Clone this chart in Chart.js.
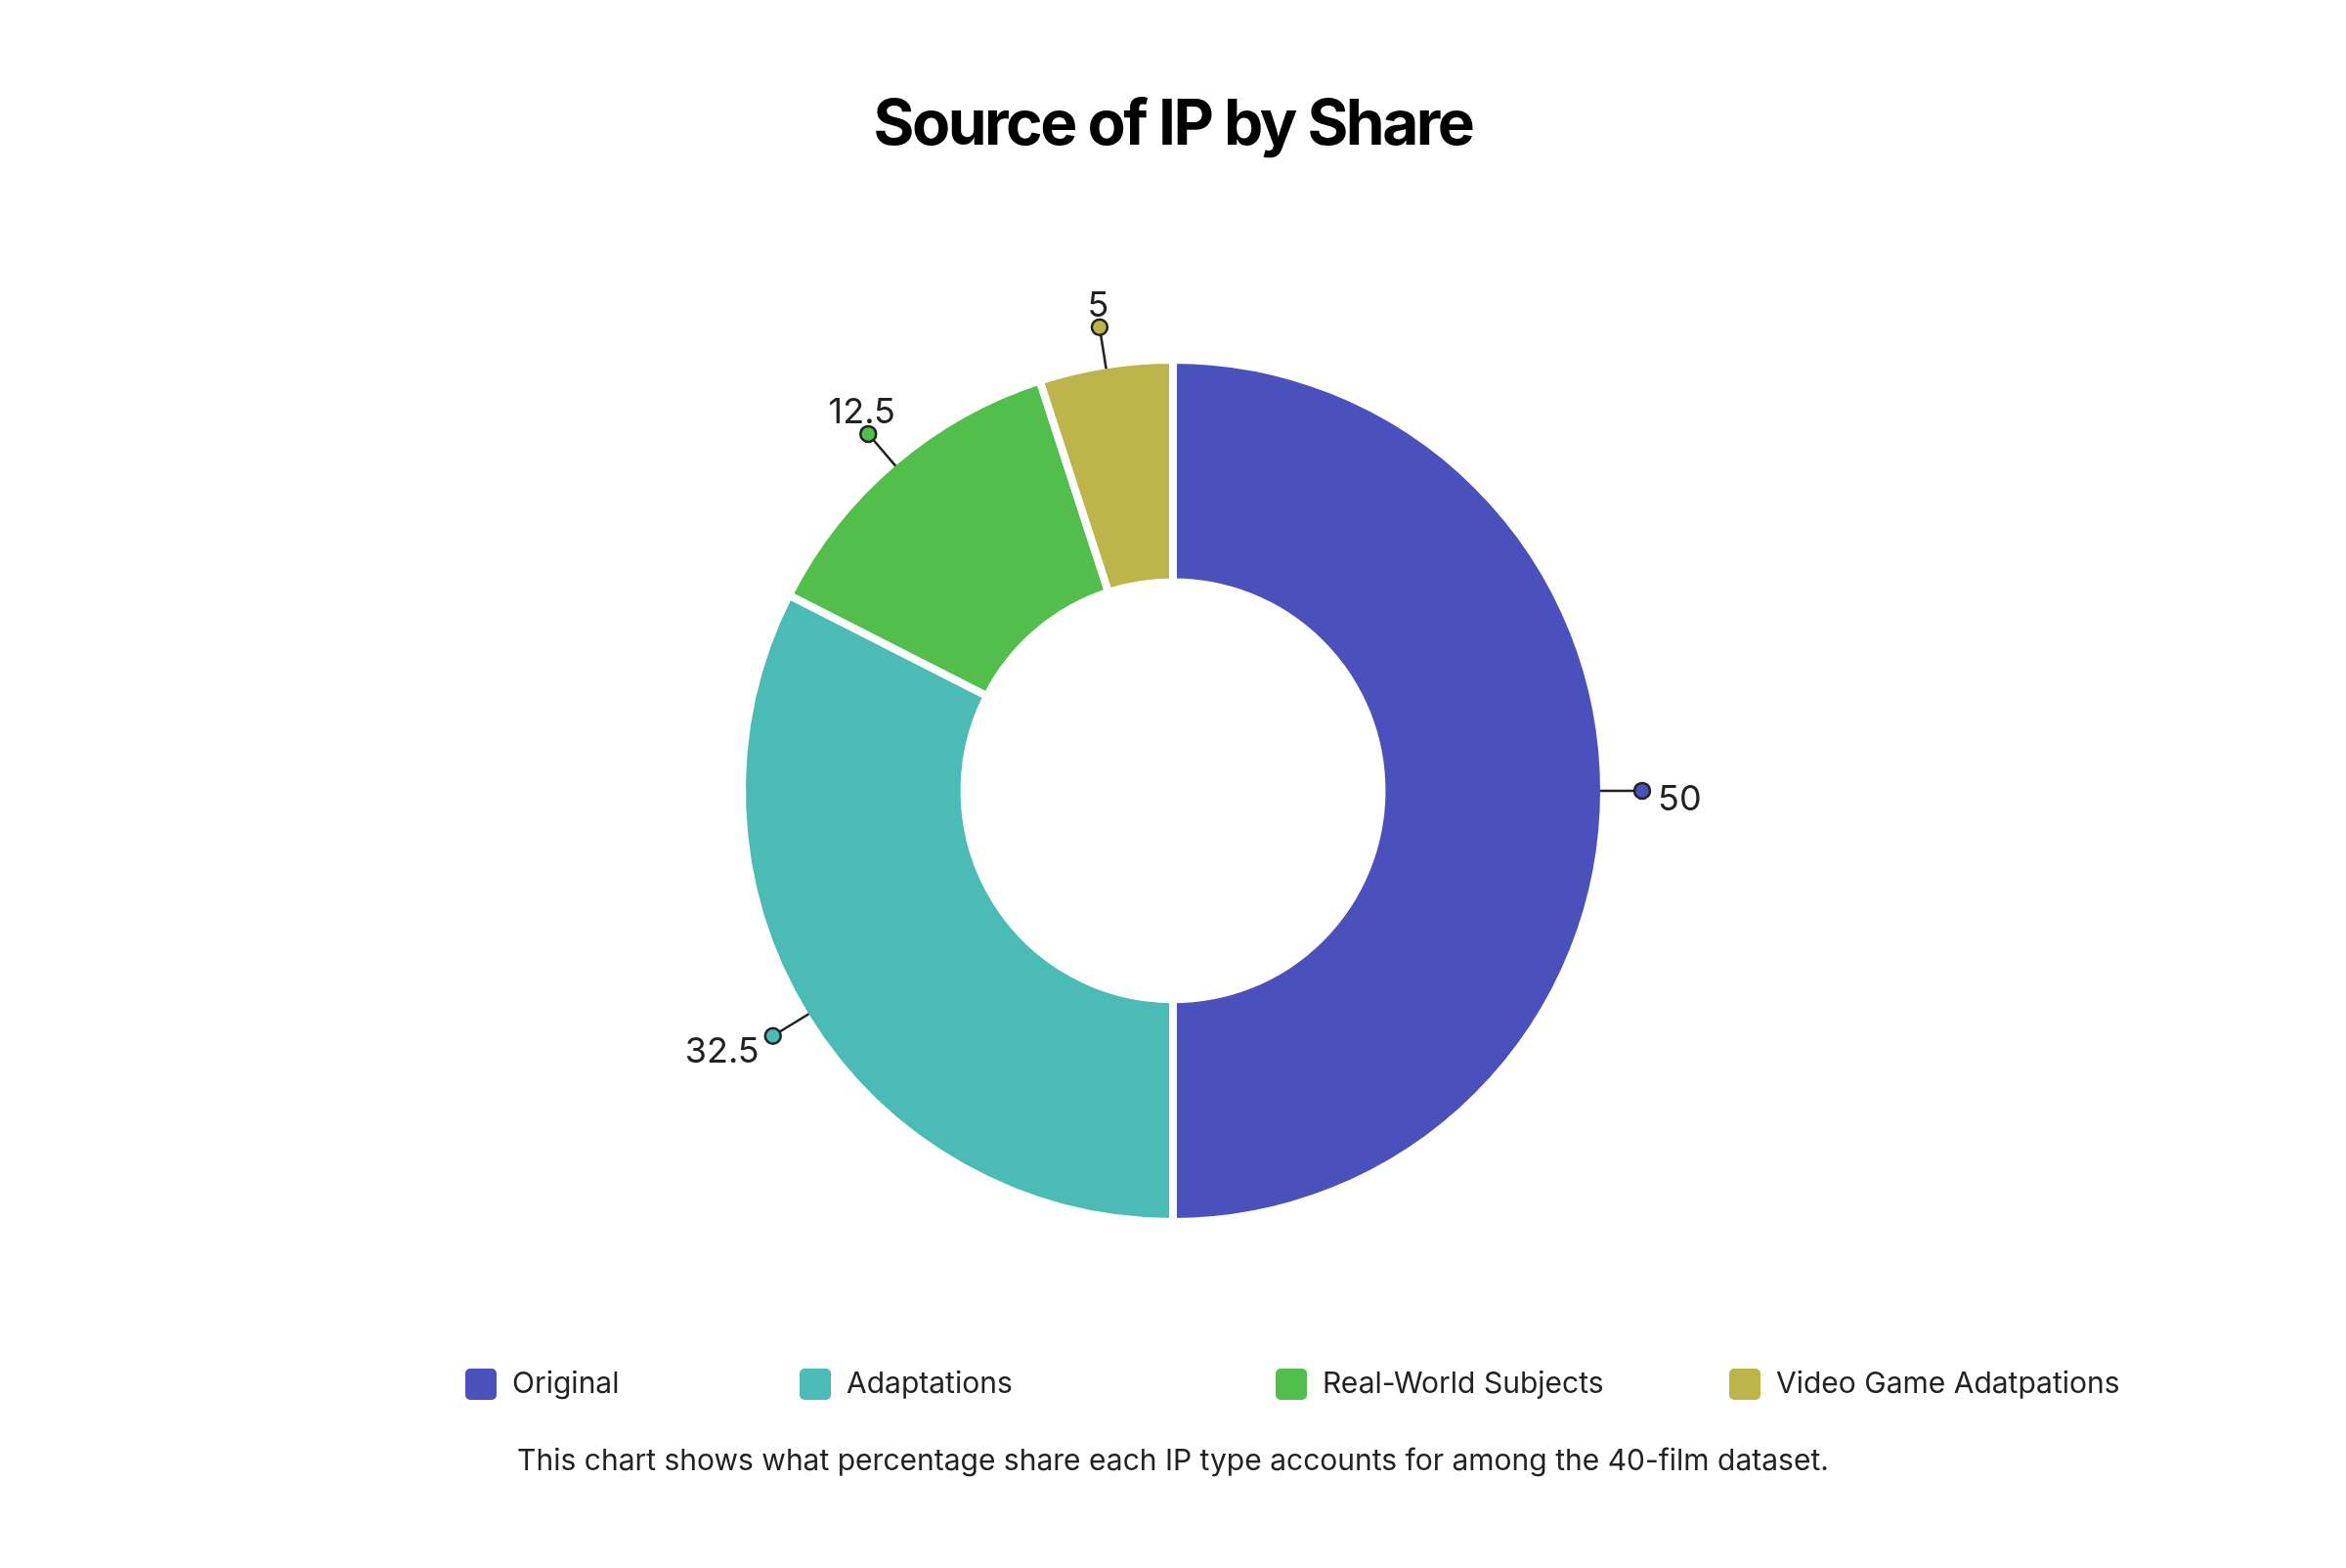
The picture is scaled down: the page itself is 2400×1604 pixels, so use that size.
<!DOCTYPE html>
<html>
<head>
<meta charset="utf-8">
<script src="https://cdn.jsdelivr.net/npm/chart.js@4.4.1/dist/chart.umd.min.js"></script>
<style>
  html, body { margin: 0; padding: 0; background: #fff; }
  #wrap { width: 2400px; height: 1604px; position: relative; }
</style>
</head>
<body>
<div id="wrap"><canvas id="grafico"></canvas></div>
<script>
var categorias = ['Original', 'Adaptations', 'Real-World Subjects', 'Video Game Adatpations'];
var valores = [50, 32.5, 12.5, 5];
var cores = ['#4A51BC', '#4BBCB5', '#52BE4B', '#BDB54A'];

var titulo = 'Source of IP by Share';
var legenda = 'This chart shows what percentage share each IP type accounts for among the 40-film dataset.';

// titulo mais apertado, como no original
var espacamento = {
    id: 'espacamento',
    beforeDraw: function(chart){ chart.ctx.letterSpacing = '-2.5px'; },
    afterDatasetsDraw: function(chart){ chart.ctx.letterSpacing = '0px'; }
};

// rotulos com linha e bolinha fora da rosca
var rotulos = {
    id: 'rotulos',
    afterDatasetsDraw: function(chart){
        var ctx = chart.ctx;
        var meta = chart.getDatasetMeta(0);
        ctx.save();
        ctx.letterSpacing = '0px';
        for(var i=0;i<meta.data.length;i++){
            var p = meta.data[i].getProps(['x','y','startAngle','endAngle','outerRadius'], true);
            var mid = (p.startAngle + p.endAngle) / 2;
            var dx = Math.cos(mid), dy = Math.sin(mid);
            var r0 = p.outerRadius - 4;
            var r1 = p.outerRadius + 39;
            var px = p.x + dx*r1, py = p.y + dy*r1;

            ctx.strokeStyle = '#222';
            ctx.lineWidth = 2.5;
            ctx.beginPath();
            ctx.moveTo(p.x + dx*r0, p.y + dy*r0);
            ctx.lineTo(p.x + dx*(r1-8), p.y + dy*(r1-8));
            ctx.stroke();

            ctx.beginPath();
            ctx.arc(px, py, 8, 0, Math.PI*2);
            ctx.fillStyle = cores[i];
            ctx.fill();
            ctx.stroke();

            ctx.fillStyle = '#222';
            ctx.font = '36px Inter';
            ctx.textBaseline = 'middle';
            var tx, ty;
            if(Math.abs(dx) > 0.8){
                ctx.textAlign = dx > 0 ? 'left' : 'right';
                tx = px + (dx > 0 ? 16 : -14);
                ty = py + 9 + dy*14;
            } else {
                ctx.textAlign = 'center';
                tx = px + dx*10;
                ty = py + (dy < 0 ? -22 : 26);
            }
            ctx.fillText(String(valores[i]), tx, ty);
        }
        ctx.restore();
    }
};

// legenda e nota desenhadas na mao para bater com o espacamento
var legendaItens = {
    id: 'legendaItens',
    afterDraw: function(chart){
        var ctx = chart.ctx;
        var xs = [476, 818, 1305, 1769];
        var y = 1416;
        ctx.save();
        ctx.letterSpacing = '0px';
        ctx.font = '30px Inter';
        ctx.textBaseline = 'middle';
        for(var i=0;i<categorias.length;i++){
            ctx.fillStyle = cores[i];
            ctx.beginPath();
            ctx.roundRect(xs[i], y-16, 32, 32, 5);
            ctx.fill();
            ctx.fillStyle = '#222';
            ctx.textAlign = 'left';
            ctx.fillText(categorias[i], xs[i] + 48, y);
        }
        ctx.textAlign = 'center';
        ctx.fillText(legenda, chart.width/2, 1495);
        ctx.restore();
    }
};

function criaGrafico(){
    Chart.defaults.font.family = 'Inter';
    new Chart('grafico', {
        type: 'doughnut',
        data: {
            labels: categorias,
            datasets: [{
                data: valores,
                backgroundColor: cores,
                borderColor: '#ffffff',
                borderWidth: 8
            }]
        },
        options: {
            responsive: true,
            maintainAspectRatio: false,
            devicePixelRatio: 1,
            animation: false,
            radius: 441,
            cutout: '48.4%',
            layout: { padding: { top: 0, bottom: 153 } },
            plugins: {
                legend: { display: false },
                tooltip: { enabled: false },
                title: {
                    display: true,
                    text: titulo,
                    color: '#000',
                    font: { size: 64, weight: 'bold' },
                    padding: { top: 90, bottom: 0 }
                }
            }
        },
        plugins: [espacamento, rotulos, legendaItens]
    });
}

if(document.fonts && document.fonts.load){
    Promise.all([document.fonts.load('bold 64px Inter'), document.fonts.load('30px Inter')])
        .then(criaGrafico, criaGrafico);
} else {
    criaGrafico();
}
</script>
</body>
</html>
